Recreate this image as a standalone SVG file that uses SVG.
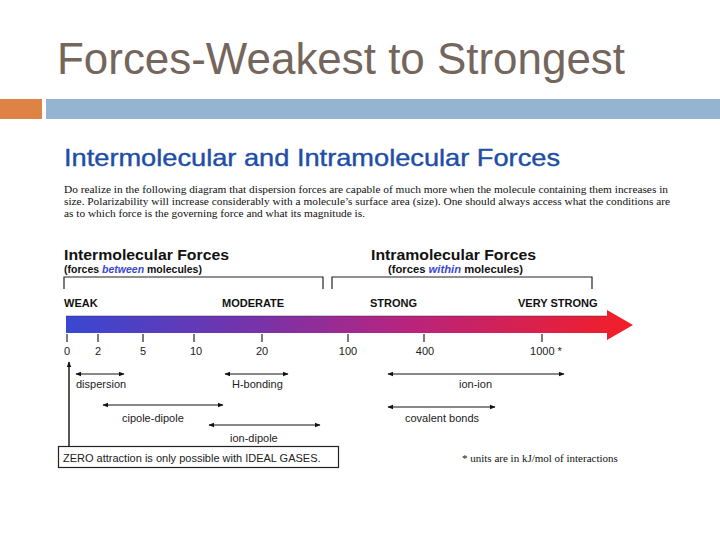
<svg xmlns="http://www.w3.org/2000/svg" width="720" height="540" viewBox="0 0 720 540">
<defs>
<linearGradient id="grad" x1="66" y1="0" x2="633" y2="0" gradientUnits="userSpaceOnUse">
<stop offset="0" stop-color="#3848d2"/>
<stop offset="0.35" stop-color="#7a32a8"/>
<stop offset="0.6" stop-color="#b8247e"/>
<stop offset="1" stop-color="#f41e26"/>
</linearGradient>
<marker id="ah" viewBox="0 0 10 10" refX="9" refY="5" markerWidth="6" markerHeight="6" orient="auto-start-reverse" markerUnits="userSpaceOnUse">
<path d="M0,1 L10,5 L0,9 z" fill="#111"/>
</marker>
</defs>
<style>
.title{font-family:"Liberation Sans",Arial,sans-serif;font-size:45px;fill:#74655d}
.sub{font-family:"Liberation Sans",Arial,sans-serif;font-size:24px;fill:#1e4ea6;stroke:#1e4ea6;stroke-width:0.4}
.para{font-family:"Liberation Serif","Times New Roman",serif;font-size:11px;fill:#111}
.hd{font-family:"Liberation Sans",Arial,sans-serif;font-size:14px;font-weight:bold;fill:#111}
.hs{font-family:"Liberation Sans",Arial,sans-serif;font-size:10.5px;font-weight:bold;fill:#111}
.em{font-style:italic;fill:#3a48d0}
.lvl{font-family:"Liberation Sans",Arial,sans-serif;font-size:11px;font-weight:bold;fill:#111}
.num{font-family:"Liberation Sans",Arial,sans-serif;font-size:11px;fill:#222;text-anchor:middle}
.lab{font-family:"Liberation Sans",Arial,sans-serif;font-size:11px;fill:#222}
.br{fill:none;stroke:#222;stroke-width:1.2}
.tick{stroke:#222;stroke-width:1.2}
.con{stroke:#111;stroke-width:1.2;fill:none;marker-start:url(#ah);marker-end:url(#ah)}
</style>
<rect width="720" height="540" fill="#fff"/>
<g id="header">
<text class="title" x="57" y="74" textLength="568" lengthAdjust="spacingAndGlyphs">Forces-Weakest to Strongest</text>
<rect x="0" y="99" width="42" height="20" fill="#de8246"/>
<rect x="46" y="99" width="674" height="20" fill="#94b4d1"/>
</g>
<g id="subtitle">
<text class="sub" x="64" y="166" textLength="496" lengthAdjust="spacingAndGlyphs">Intermolecular and Intramolecular Forces</text>
</g>
<g id="paragraph">
<text class="para" x="64" y="193" textLength="604" lengthAdjust="spacingAndGlyphs">Do realize in the following diagram that dispersion forces are capable of much more when the molecule containing them increases in</text>
<text class="para" x="64" y="205" textLength="606" lengthAdjust="spacingAndGlyphs">size. Polarizability will increase considerably with a molecule’s surface area (size). One should always access what the conditions are</text>
<text class="para" x="64" y="217" textLength="301" lengthAdjust="spacingAndGlyphs">as to which force is the governing force and what its magnitude is.</text>
</g>
<g id="intermolecular">
<text class="hd" x="64" y="260" textLength="165" lengthAdjust="spacingAndGlyphs">Intermolecular Forces</text>
<text class="hs" x="64" y="273" textLength="138" lengthAdjust="spacingAndGlyphs">(forces <tspan class="em">between</tspan> molecules)</text>
<path class="br" d="M64,289 V277 H323 V289"/>
</g>
<g id="intramolecular">
<text class="hd" x="371" y="260" textLength="165" lengthAdjust="spacingAndGlyphs">Intramolecular Forces</text>
<text class="hs" x="388" y="273" textLength="135" lengthAdjust="spacingAndGlyphs">(forces <tspan class="em">within</tspan> molecules)</text>
<path class="br" d="M332,289 V277 H592 V289"/>
</g>
<g id="levels">
<text class="lvl" x="64" y="307">WEAK</text>
<text class="lvl" x="222" y="307">MODERATE</text>
<text class="lvl" x="370" y="307">STRONG</text>
<text class="lvl" x="518" y="307">VERY STRONG</text>
</g>
<g id="scale-arrow">
<path d="M66,316 H607 V310 L633,325 L607,340 V333 H66 Z" fill="url(#grad)"/>
<line x1="66" y1="316" x2="607" y2="316" stroke="#3a2a4a" stroke-width="0.8" opacity="0.6"/>
</g>
<g id="ticks">
<line class="tick" x1="67" y1="334" x2="67" y2="342"/>
<line class="tick" x1="98" y1="334" x2="98" y2="342"/>
<line class="tick" x1="143" y1="334" x2="143" y2="342"/>
<line class="tick" x1="194" y1="334" x2="194" y2="342"/>
<line class="tick" x1="262" y1="334" x2="262" y2="342"/>
<line class="tick" x1="348" y1="334" x2="348" y2="342" stroke="#999"/>
<line class="tick" x1="424" y1="334" x2="424" y2="342"/>
<line class="tick" x1="542" y1="334" x2="542" y2="342"/>
<text class="num" x="67" y="355">0</text>
<text class="num" x="98" y="355">2</text>
<text class="num" x="143" y="355">5</text>
<text class="num" x="196" y="355">10</text>
<text class="num" x="262" y="355">20</text>
<text class="num" x="348" y="355">100</text>
<text class="num" x="425" y="355">400</text>
<text class="num" x="546" y="355">1000 *</text>
</g>
<g id="connectors">
<line x1="69" y1="447" x2="69" y2="362" stroke="#111" stroke-width="1.4" marker-end="url(#ah)"/>
<line class="con" x1="76" y1="374" x2="124" y2="374"/>
<line class="con" x1="225" y1="374" x2="288" y2="374"/>
<line class="con" x1="103" y1="405" x2="223" y2="405"/>
<line class="con" x1="209" y1="425" x2="320" y2="425" stroke="#555"/>
<line class="con" x1="388" y1="374" x2="564" y2="374"/>
<line class="con" x1="388" y1="407" x2="495" y2="407"/>
</g>
<g id="dispersion"><text class="lab" x="76" y="388">dispersion</text></g>
<g id="h-bonding"><text class="lab" x="232" y="388">H-bonding</text></g>
<g id="dipole-dipole"><text class="lab" x="122" y="422">cipole-dipole</text></g>
<g id="ion-dipole"><text class="lab" x="230" y="442">ion-dipole</text></g>
<g id="ion-ion"><text class="lab" x="459" y="388">ion-ion</text></g>
<g id="covalent"><text class="lab" x="405" y="422">covalent bonds</text></g>
<g id="zero-note">
<rect x="58.5" y="446.5" width="280" height="21" fill="#fff" stroke="#222" stroke-width="1.2"/>
<text class="lab" x="63" y="462">ZERO attraction is only possible with IDEAL GASES.</text>
</g>
<g id="units-note">
<text class="para" x="462" y="462" font-size="10.5">* units are in kJ/mol of interactions</text>
</g>
</svg>
